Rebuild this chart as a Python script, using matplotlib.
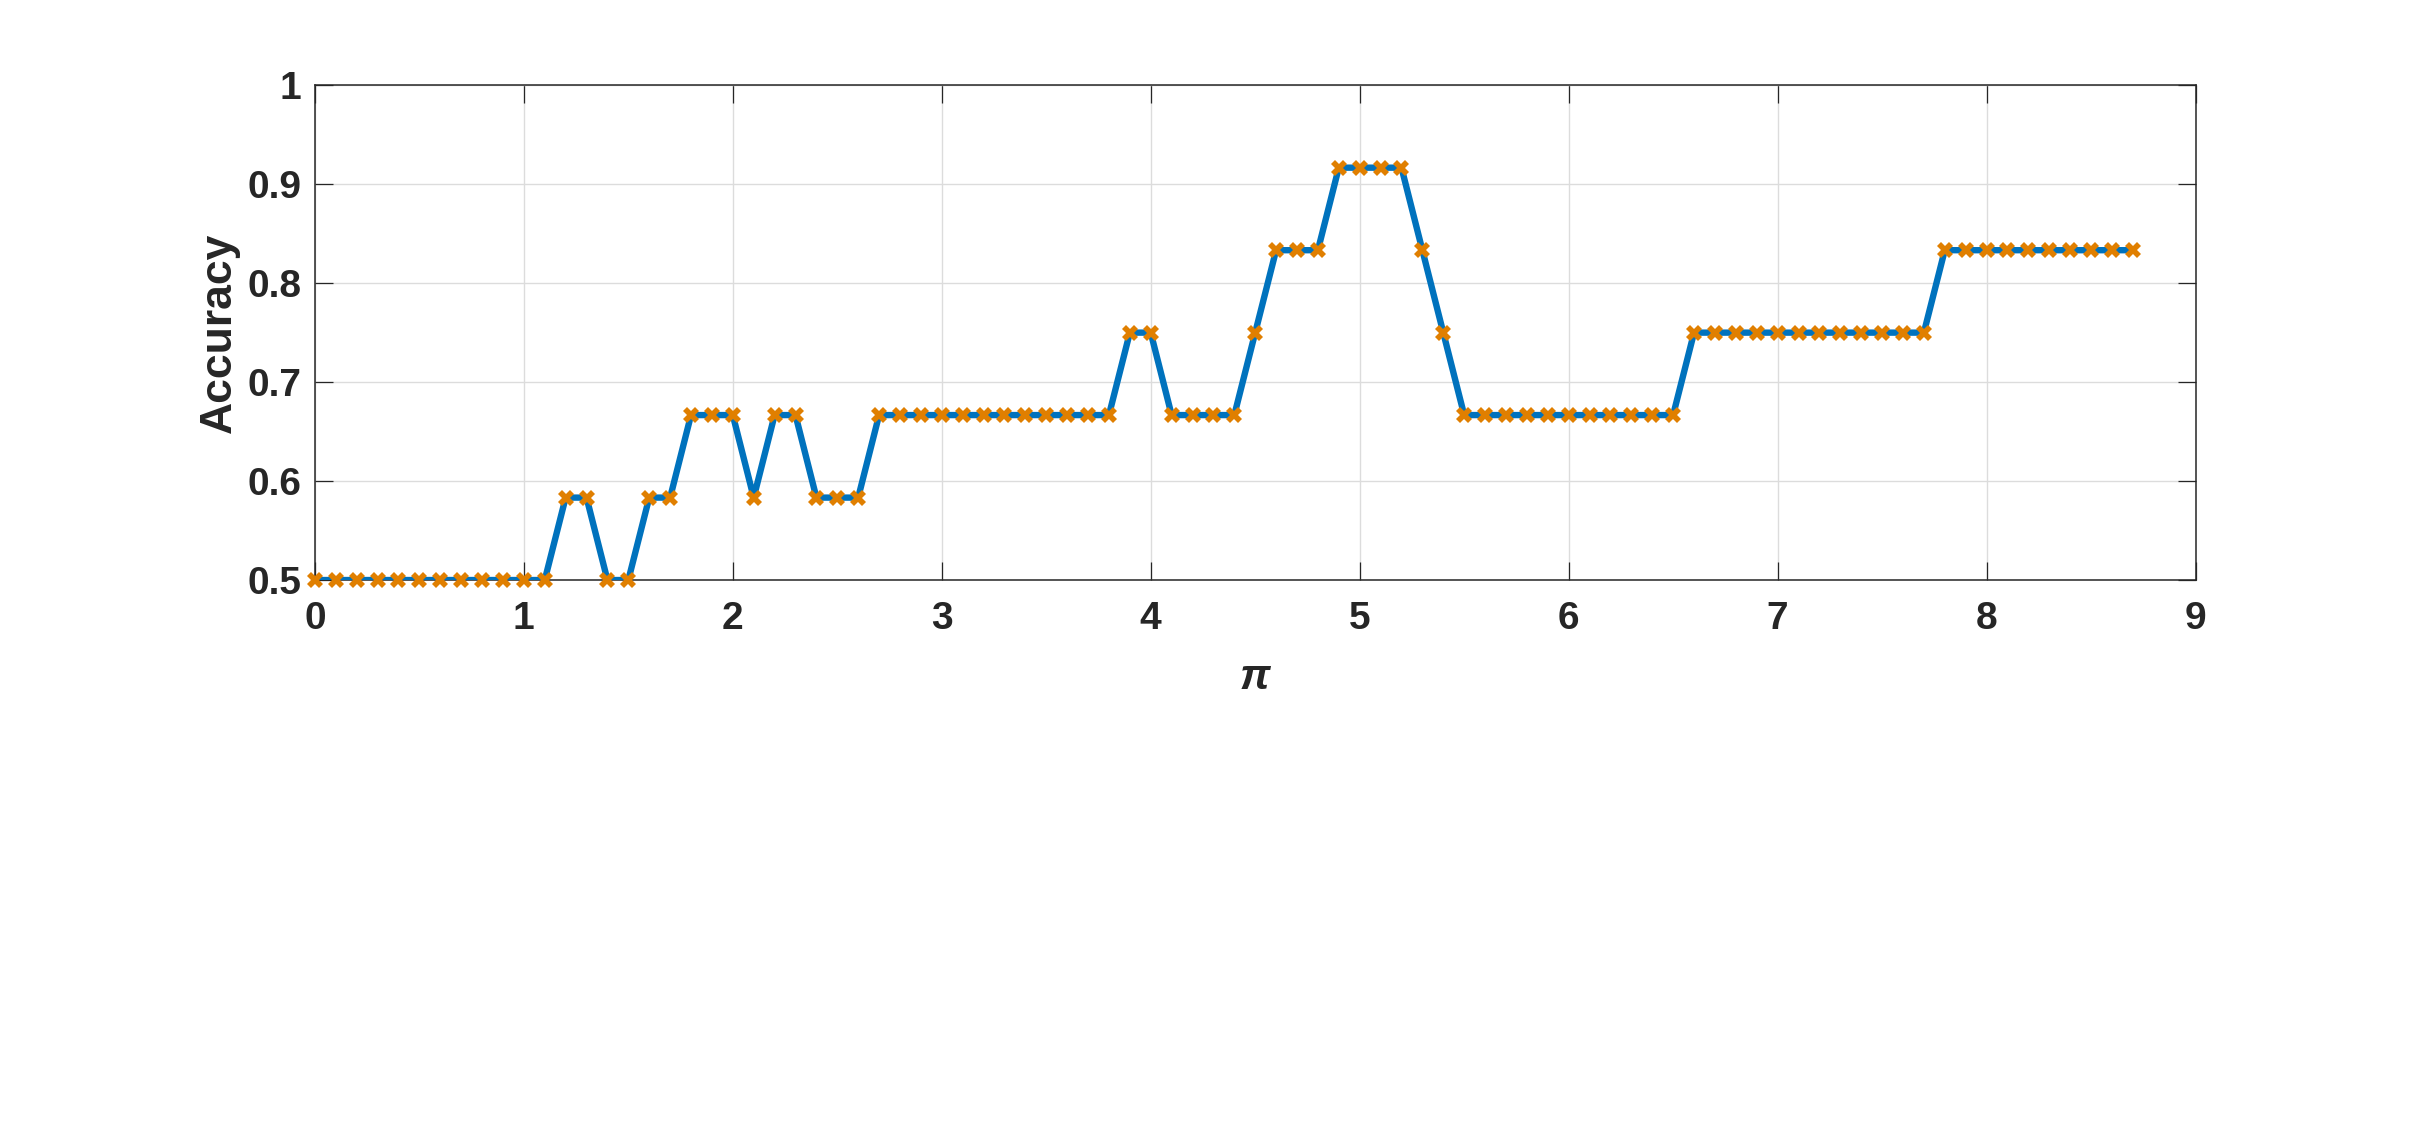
import matplotlib
matplotlib.use("Agg")
import matplotlib.pyplot as plt

# pi values on the x axis and the measured accuracy at each one
pi_values = [
    0.0, 0.1, 0.2, 0.3, 0.4, 0.5, 0.6, 0.7, 0.8, 0.9,
    1.0, 1.1, 1.2, 1.3, 1.4, 1.5, 1.6, 1.7, 1.8, 1.9,
    2.0, 2.1, 2.2, 2.3, 2.4, 2.5, 2.6, 2.7, 2.8, 2.9,
    3.0, 3.1, 3.2, 3.3, 3.4, 3.5, 3.6, 3.7, 3.8, 3.9,
    4.0, 4.1, 4.2, 4.3, 4.4, 4.5, 4.6, 4.7, 4.8, 4.9,
    5.0, 5.1, 5.2, 5.3, 5.4, 5.5, 5.6, 5.7, 5.8, 5.9,
    6.0, 6.1, 6.2, 6.3, 6.4, 6.5, 6.6, 6.7, 6.8, 6.9,
    7.0, 7.1, 7.2, 7.3, 7.4, 7.5, 7.6, 7.7, 7.8, 7.9,
    8.0, 8.1, 8.2, 8.3, 8.4, 8.5, 8.6, 8.7,
]
accuracy = [
    0.5, 0.5, 0.5, 0.5, 0.5, 0.5, 0.5, 0.5, 0.5, 0.5,
    0.5, 0.5, 0.5833, 0.5833, 0.5, 0.5, 0.5833, 0.5833, 0.6667, 0.6667,
    0.6667, 0.5833, 0.6667, 0.6667, 0.5833, 0.5833, 0.5833, 0.6667, 0.6667, 0.6667,
    0.6667, 0.6667, 0.6667, 0.6667, 0.6667, 0.6667, 0.6667, 0.6667, 0.6667, 0.75,
    0.75, 0.6667, 0.6667, 0.6667, 0.6667, 0.75, 0.8333, 0.8333, 0.8333, 0.9167,
    0.9167, 0.9167, 0.9167, 0.8333, 0.75, 0.6667, 0.6667, 0.6667, 0.6667, 0.6667,
    0.6667, 0.6667, 0.6667, 0.6667, 0.6667, 0.6667, 0.75, 0.75, 0.75, 0.75,
    0.75, 0.75, 0.75, 0.75, 0.75, 0.75, 0.75, 0.75, 0.8333, 0.8333,
    0.8333, 0.8333, 0.8333, 0.8333, 0.8333, 0.8333, 0.8333, 0.8333,
]
x_ticks = [0, 1, 2, 3, 4, 5, 6, 7, 8, 9]
y_ticks = [0.5, 0.6, 0.7, 0.8, 0.9, 1.0]
y_tick_labels = ["0.5", "0.6", "0.7", "0.8", "0.9", "1"]

plt.rcParams["font.family"] = ["Liberation Sans", "DejaVu Sans"]
plt.rcParams["font.weight"] = "bold"

dark = "#262626"
fig = plt.figure(figsize=(24.26, 11.32), dpi=100)
ax = fig.add_axes([0.1298, 0.4876, 0.9050 - 0.1298, 0.9247 - 0.4876])

ax.plot(pi_values, accuracy, color="#0072BD", linewidth=4.6, zorder=3)
ax.plot(pi_values, accuracy, linestyle="none", marker="X", markersize=11,
        markerfacecolor="#E07F00", markeredgewidth=0, zorder=4, clip_on=False)

ax.set_xlim(0, 9)
ax.set_ylim(0.5, 1)
ax.set_xticks(x_ticks)
ax.set_yticks(y_ticks)
ax.set_yticklabels(y_tick_labels)
ax.grid(True, color="#dcdcdc", linewidth=1.0, zorder=0)
ax.set_axisbelow(True)

ax.tick_params(direction="in", length=13, width=0.9, top=True, right=True,
               colors=dark, labelsize=28)
ax.tick_params(axis="x", pad=15)
ax.tick_params(axis="y", pad=10)
for lbl in ax.get_xticklabels() + ax.get_yticklabels():
    lbl.set_fontweight("bold")
for sp in ax.spines.values():
    sp.set_color(dark)
    sp.set_linewidth(1.1)

ax.set_ylabel("Accuracy", fontsize=32, fontweight="bold", color=dark)
ax.yaxis.set_label_coords(-0.040, 0.5)
ax.set_xlabel("π", fontsize=31, fontweight="bold", fontstyle="italic", color=dark)
ax.xaxis.set_label_coords(0.5, -0.157)

fig.savefig("out.png", dpi=100, facecolor="white")
